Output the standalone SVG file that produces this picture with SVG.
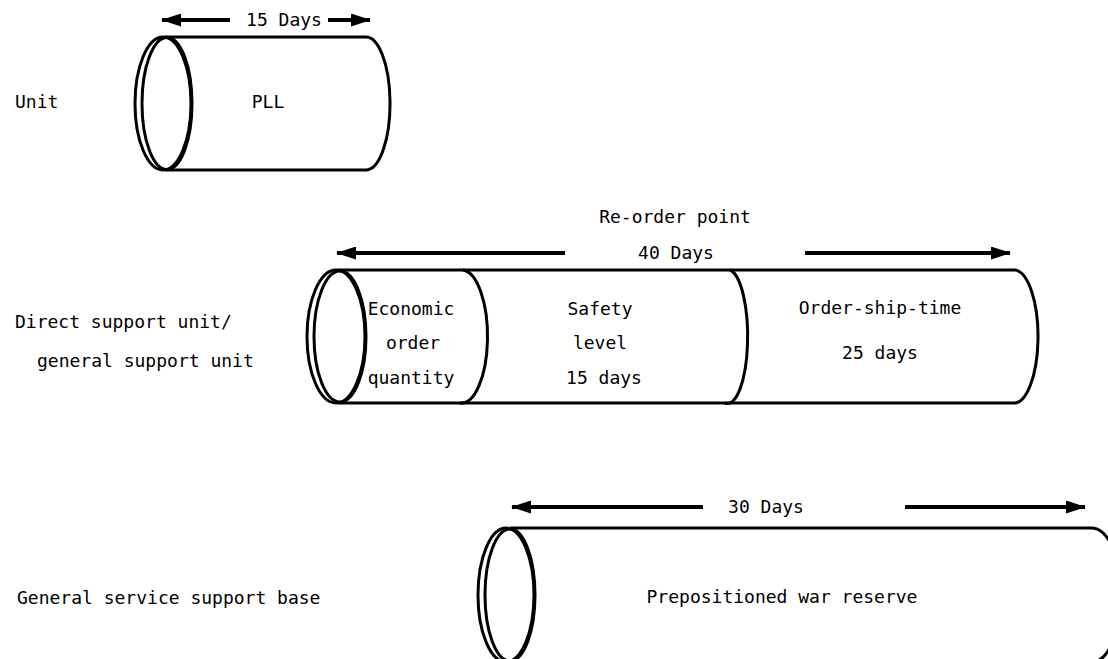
<svg xmlns="http://www.w3.org/2000/svg" width="1108" height="659" viewBox="0 0 1108 659">
<style>
.t{font-family:"DejaVu Sans Mono","Liberation Mono",monospace;font-size:18px;fill:#000}
.m{text-anchor:middle}
.s{fill:none;stroke:#000;stroke-width:3}
.f{fill:#fff;stroke:none}
.a{stroke:#000;stroke-width:4;fill:none}
</style>
<defs>
<marker id="ah" markerWidth="20" markerHeight="13" refX="19" refY="6.5" orient="auto" markerUnits="userSpaceOnUse">
<path d="M0,0 L20,6.5 L0,13 z" fill="#000"/>
</marker>
</defs>
<rect width="1108" height="659" fill="#fff"/>

<g id="labels">
<text class="t" x="15" y="108">Unit</text>
<text class="t" x="15" y="328">Direct support unit/</text>
<text class="t" x="37" y="367">general support unit</text>
<text class="t" x="17" y="604">General service support base</text>
</g>

<g id="cyl-pll">
<path class="f" d="M165,37 L365,37 A24,66.5 0 0 1 367,170 L165,170 Z"/>
<path class="s" d="M165,37 L365,37 A24,66.5 0 0 1 367,170 L165,170"/>
<ellipse class="s" cx="163" cy="103.5" rx="28" ry="66.5"/>
<ellipse class="s" cx="167" cy="103.5" rx="25" ry="66"/>
<text class="t m" x="268" y="108">PLL</text>
</g>

<g id="cyl-ds">
<path class="f" d="M338,270 L1015,270 A24,66.5 0 0 1 1013,403 L338,403 Z"/>
<path class="s" d="M338,270 L1015,270 A24,66.5 0 0 1 1013,403 L338,403"/>
<path class="s" d="M463,270 A26,66.5 0 0 1 460,403"/>
<path class="s" d="M730,270 A20,66.5 0 0 1 725,403"/>
<ellipse class="s" cx="336" cy="336.5" rx="29" ry="66.5"/>
<ellipse class="s" cx="340" cy="336.5" rx="26" ry="65.5"/>
<text class="t m" x="411" y="315">Economic</text>
<text class="t m" x="413" y="349">order</text>
<text class="t m" x="411" y="384">quantity</text>
<text class="t m" x="600" y="315">Safety</text>
<text class="t m" x="600" y="349">level</text>
<text class="t m" x="604" y="384">15 days</text>
<text class="t m" x="880" y="314">Order-ship-time</text>
<text class="t m" x="880" y="359">25 days</text>
<text class="t m" x="675" y="223">Re-order point</text>
<text class="t m" x="676" y="259">40 Days</text>
</g>

<g id="cyl-gs">
<path class="f" d="M510,528 L1093,528 A30,67 0 0 1 1090,662 L510,662 Z"/>
<path class="s" d="M510,528 L1093,528 A30,67 0 0 1 1090,662 L510,662"/>
<ellipse class="s" cx="506" cy="595" rx="28" ry="67"/>
<ellipse class="s" cx="510" cy="595" rx="25" ry="66"/>
<text class="t m" x="782" y="603">Prepositioned war reserve</text>
<text class="t m" x="766" y="513">30 Days</text>
</g>

<g id="connectors">
<text class="t m" x="284" y="26">15 Days</text>
<line class="a" x1="230" y1="20" x2="162" y2="20" marker-end="url(#ah)"/>
<line class="a" x1="328" y1="20" x2="370" y2="20" marker-end="url(#ah)"/>
<line class="a" x1="565" y1="253" x2="337" y2="253" marker-end="url(#ah)"/>
<line class="a" x1="805" y1="253" x2="1010" y2="253" marker-end="url(#ah)"/>
<line class="a" x1="703" y1="507" x2="512" y2="507" marker-end="url(#ah)"/>
<line class="a" x1="905" y1="507" x2="1085" y2="507" marker-end="url(#ah)"/>
</g>
</svg>
